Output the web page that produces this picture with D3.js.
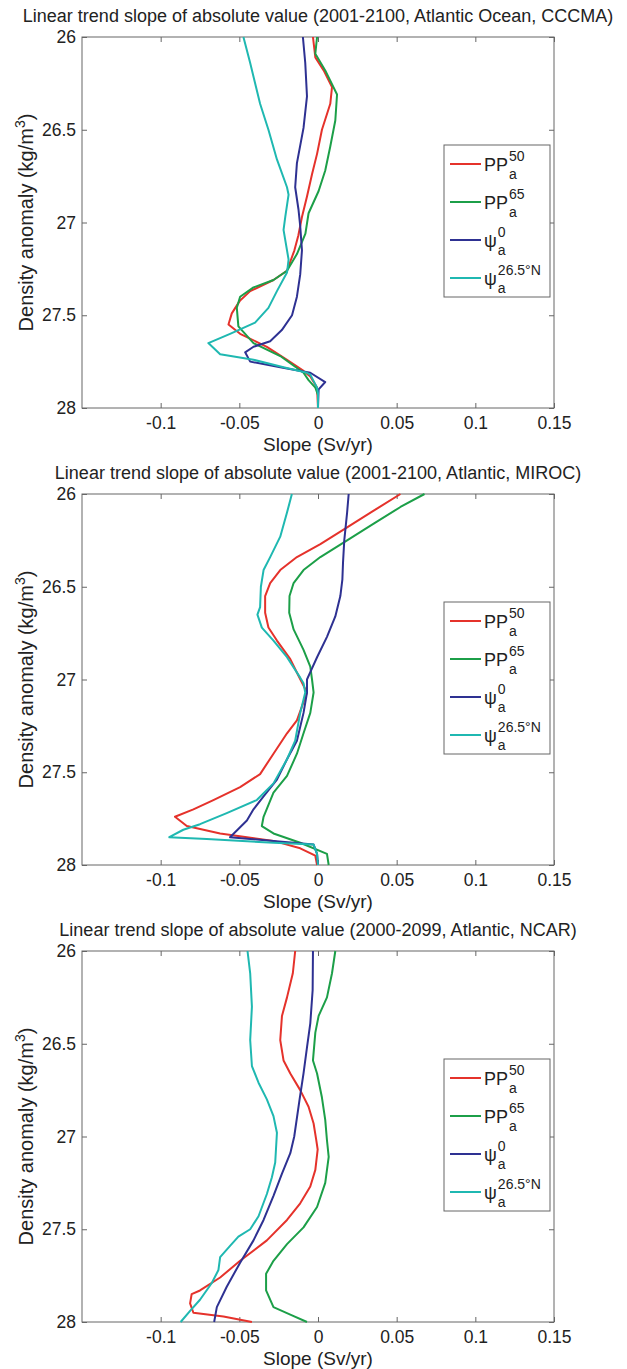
<!DOCTYPE html>
<html>
<head>
<meta charset="utf-8">
<script src="https://d3js.org/d3.v7.min.js"></script>
<style>
  body { margin: 0; background: #fff; }
  text { font-family: Arial, "Liberation Sans", Helvetica, sans-serif; fill: #222; }
</style>
</head>
<body>
<svg id="chart" width="627" height="1369"></svg>
<script>
// axis ticks + titles
var densityTicks = [26, 26.5, 27, 27.5, 28];
var slopeTicks = [-0.1, -0.05, 0, 0.05, 0.1, 0.15];
var panelTitles = [
  "Linear trend slope of absolute value (2001-2100, Atlantic Ocean, CCCMA)",
  "Linear trend slope of absolute value (2001-2100, Atlantic, MIROC)",
  "Linear trend slope of absolute value (2000-2099, Atlantic, NCAR)"
];
var seriesNames = [
  {base: "PP", sup: "50"},
  {base: "PP", sup: "65"},
  {base: "\u03c8", sup: "0"},
  {base: "\u03c8", sup: "26.5\u00b0N"}
];
var seriesColors = ["#e5322b", "#1c9f48", "#2e3192", "#1fb8b1"];

// [density anomaly, slope] pairs
var cccmaPP50 = [[26.00,-0.0032],[26.11,-0.0017],[26.18,0.0036],[26.27,0.0089],[26.36,0.0078],[26.50,0.0025],[26.63,-0.0006],[26.74,-0.0038],[26.86,-0.0070],[26.97,-0.0102],[27.07,-0.0125],[27.15,-0.0150],[27.26,-0.0197],[27.31,-0.0283],[27.37,-0.0431],[27.42,-0.0495],[27.49,-0.0548],[27.55,-0.0569],[27.60,-0.0495],[27.67,-0.0325],[27.74,-0.0197],[27.80,-0.0092],[27.83,-0.0049],[27.89,-0.0006],[28.00,0]];
var cccmaPP65 = [[26.00,-0.0006],[26.09,-0.0017],[26.18,0.0046],[26.31,0.0121],[26.45,0.0110],[26.59,0.0078],[26.72,0.0046],[26.83,0.0004],[26.95,-0.0060],[27.06,-0.0080],[27.17,-0.0134],[27.26,-0.0197],[27.31,-0.0283],[27.35,-0.0410],[27.40,-0.0495],[27.46,-0.0516],[27.56,-0.0506],[27.65,-0.0410],[27.72,-0.0240],[27.81,-0.0092],[27.85,-0.0060],[27.89,-0.0017],[27.93,0],[28.00,0]];
var cccmaPsi0 = [[26.00,-0.0096],[26.14,-0.0081],[26.32,-0.0070],[26.49,-0.0092],[26.68,-0.0134],[26.81,-0.0145],[26.93,-0.0124],[27.02,-0.0113],[27.15,-0.0102],[27.28,-0.0113],[27.40,-0.0134],[27.50,-0.0165],[27.58,-0.0230],[27.64,-0.0304],[27.67,-0.0410],[27.70,-0.0463],[27.75,-0.0431],[27.78,-0.0240],[27.81,-0.0049],[27.86,0.0046],[27.90,0.0004],[28.00,0]];
var cccmaPsi26 = [[26.00,-0.0474],[26.14,-0.0431],[26.36,-0.0368],[26.50,-0.0315],[26.66,-0.0261],[26.81,-0.0197],[26.85,-0.0187],[26.97,-0.0208],[27.04,-0.0219],[27.20,-0.0187],[27.27,-0.0197],[27.37,-0.0261],[27.46,-0.0315],[27.54,-0.0400],[27.60,-0.0559],[27.65,-0.0697],[27.71,-0.0622],[27.74,-0.0410],[27.78,-0.0219],[27.81,-0.0070],[27.82,-0.0049],[27.89,-0.0006],[27.92,0],[28.00,0]];

var mirocPP50 = [[26.00,0.0524],[26.09,0.0354],[26.18,0.0185],[26.27,0.0015],[26.34,-0.0134],[26.41,-0.0240],[26.48,-0.0304],[26.55,-0.0336],[26.64,-0.0336],[26.72,-0.0315],[26.79,-0.0261],[26.89,-0.0176],[26.98,-0.0124],[27.07,-0.0070],[27.22,-0.0134],[27.29,-0.0197],[27.40,-0.0283],[27.51,-0.0368],[27.58,-0.0495],[27.65,-0.0665],[27.70,-0.0792],[27.74,-0.0909],[27.79,-0.0834],[27.83,-0.0622],[27.87,-0.0283],[27.91,-0.0113],[27.95,-0.0017],[28.00,-0.0006]];
var mirocPP65 = [[26.00,0.0677],[26.07,0.0524],[26.16,0.0354],[26.25,0.0185],[26.34,0.0015],[26.41,-0.0092],[26.48,-0.0155],[26.55,-0.0181],[26.64,-0.0183],[26.73,-0.0155],[26.84,-0.0092],[26.93,-0.0049],[27.00,-0.0038],[27.07,-0.0028],[27.18,-0.0049],[27.29,-0.0092],[27.40,-0.0134],[27.52,-0.0197],[27.61,-0.0283],[27.74,-0.0346],[27.79,-0.0357],[27.83,-0.0283],[27.88,-0.0113],[27.94,0.0057],[28.00,0.0068]];
var mirocPsi0 = [[26.00,0.0195],[26.10,0.0185],[26.25,0.0167],[26.37,0.0159],[26.46,0.0155],[26.55,0.0142],[26.66,0.0110],[26.77,0.0057],[26.88,-0.0006],[26.96,-0.0049],[27.00,-0.0070],[27.07,-0.0070],[27.18,-0.0092],[27.33,-0.0134],[27.43,-0.0197],[27.54,-0.0261],[27.63,-0.0346],[27.70,-0.0410],[27.76,-0.0452],[27.85,-0.0559],[27.87,-0.0283],[27.89,-0.0028],[27.94,-0.0006],[28.00,0]];
var mirocPsi26 = [[26.00,-0.0166],[26.10,-0.0197],[26.23,-0.0240],[26.34,-0.0304],[26.41,-0.0346],[26.50,-0.0363],[26.61,-0.0368],[26.65,-0.0385],[26.72,-0.0357],[26.79,-0.0283],[26.88,-0.0197],[26.99,-0.0113],[27.02,-0.0092],[27.07,-0.0081],[27.18,-0.0113],[27.33,-0.0145],[27.43,-0.0197],[27.56,-0.0283],[27.65,-0.0389],[27.72,-0.0580],[27.78,-0.0750],[27.81,-0.0856],[27.85,-0.0945],[27.86,-0.0707],[27.88,-0.0283],[27.89,-0.0028],[27.94,-0.0006],[28.00,0]];

var ncarPP50 = [[26.00,-0.0145],[26.12,-0.0160],[26.25,-0.0197],[26.35,-0.0229],[26.48,-0.0240],[26.59,-0.0219],[26.66,-0.0176],[26.75,-0.0113],[26.84,-0.0060],[26.93,-0.0028],[27.02,-0.0011],[27.07,-0.0002],[27.18,-0.0017],[27.27,-0.0049],[27.36,-0.0113],[27.45,-0.0197],[27.56,-0.0325],[27.67,-0.0495],[27.76,-0.0622],[27.83,-0.0750],[27.85,-0.0803],[27.90,-0.0813],[27.95,-0.0792],[27.97,-0.0601],[28.00,-0.0420]];
var ncarPP65 = [[26.00,0.0110],[26.12,0.0089],[26.25,0.0057],[26.35,0.0004],[26.44,-0.0017],[26.59,-0.0032],[26.66,-0.0006],[26.79,0.0025],[26.91,0.0046],[27.02,0.0057],[27.11,0.0068],[27.25,0.0046],[27.38,-0.0006],[27.49,-0.0092],[27.58,-0.0197],[27.67,-0.0283],[27.74,-0.0330],[27.83,-0.0330],[27.92,-0.0283],[27.96,-0.0176],[28.00,-0.0070]];
var ncarPsi0 = [[26.00,-0.0032],[26.21,-0.0034],[26.39,-0.0049],[26.52,-0.0070],[26.66,-0.0092],[26.80,-0.0117],[27.00,-0.0151],[27.09,-0.0176],[27.20,-0.0229],[27.32,-0.0283],[27.45,-0.0346],[27.56,-0.0410],[27.68,-0.0495],[27.81,-0.0580],[27.92,-0.0643],[28.00,-0.0660]];
var ncarPsi26 = [[26.00,-0.0448],[26.12,-0.0431],[26.30,-0.0420],[26.48,-0.0431],[26.62,-0.0420],[26.71,-0.0378],[26.80,-0.0325],[26.89,-0.0283],[26.98,-0.0261],[27.14,-0.0272],[27.22,-0.0293],[27.31,-0.0325],[27.43,-0.0378],[27.50,-0.0431],[27.54,-0.0506],[27.59,-0.0559],[27.65,-0.0622],[27.72,-0.0633],[27.79,-0.0675],[27.88,-0.0750],[27.94,-0.0813],[28.00,-0.0873]];

var panels = [
  {title: panelTitles[0], series: [cccmaPP50, cccmaPP65, cccmaPsi0, cccmaPsi26]},
  {title: panelTitles[1], series: [mirocPP50, mirocPP65, mirocPsi0, mirocPsi26]},
  {title: panelTitles[2], series: [ncarPP50, ncarPP65, ncarPsi0, ncarPsi26]}
];

var svg = d3.select("#chart");
var left = 82, right = 554, plotH = 371, firstTop = 37, panelStep = 457;
var width = right - left;

var x = d3.scaleLinear().domain([-0.15, 0.15]).range([0, width]);
var y = d3.scaleLinear().domain([26, 28]).range([0, plotH]);

var line = d3.line()
  .x(function(d) { return x(d[1]); })
  .y(function(d) { return y(d[0]); });

panels.forEach(function(p, i) {
  var top = firstTop + i * panelStep;
  var g = svg.append("g").attr("transform", "translate(" + left + "," + top + ")");

  // title
  g.append("text")
    .attr("x", width / 2)
    .attr("y", -15)
    .attr("text-anchor", "middle")
    .attr("font-size", 18)
    .text(p.title);

  // axes, ticks pointing inward like matlab
  var xb = g.append("g").attr("transform", "translate(0," + plotH + ")")
    .call(d3.axisBottom(x).tickValues(slopeTicks).tickSizeInner(-5).tickSizeOuter(0).tickPadding(9)
      .tickFormat(function(d) { return d; }));
  var xt = g.append("g")
    .call(d3.axisTop(x).tickValues(slopeTicks).tickSizeInner(-5).tickSizeOuter(0).tickFormat(""));
  var yl = g.append("g")
    .call(d3.axisLeft(y).tickValues(densityTicks).tickSizeInner(-5).tickSizeOuter(0).tickPadding(6)
      .tickFormat(function(d) { return d; }));
  var yr = g.append("g").attr("transform", "translate(" + width + ",0)")
    .call(d3.axisRight(y).tickValues(densityTicks).tickSizeInner(-5).tickSizeOuter(0).tickFormat(""));

  [xb, xt, yl, yr].forEach(function(a) {
    a.select(".domain").remove();
    a.selectAll("line").attr("stroke", "#666");
    a.selectAll("text").attr("font-size", 17.5).attr("fill", "#222")
      .attr("font-family", "Arial, 'Liberation Sans', sans-serif");
  });

  g.append("rect")
    .attr("width", width)
    .attr("height", plotH)
    .attr("fill", "none")
    .attr("stroke", "#666")
    .attr("stroke-width", 1);

  // curves
  g.selectAll("path.curve")
    .data(p.series)
    .enter()
    .append("path")
    .attr("class", "curve")
    .attr("fill", "none")
    .attr("stroke", function(d, k) { return seriesColors[k]; })
    .attr("stroke-width", 2)
    .attr("stroke-linejoin", "round")
    .attr("d", line);

  // axis labels
  g.append("text")
    .attr("x", width / 2)
    .attr("y", plotH + 43)
    .attr("text-anchor", "middle")
    .attr("font-size", 19)
    .text("Slope (Sv/yr)");

  var yLab = g.append("text")
    .attr("transform", "translate(" + (33 - left) + "," + (plotH / 2) + ") rotate(-90)")
    .attr("text-anchor", "middle")
    .attr("font-size", 20);
  yLab.append("tspan").text("Density anomaly (kg/m");
  yLab.append("tspan").attr("dy", -8).attr("font-size", 14).text("3");
  yLab.append("tspan").attr("dy", 8).text(")");

  // legend
  var lx = 444 - left, ly = 108, lw = 106, lh = 152;
  var leg = g.append("g").attr("transform", "translate(" + lx + "," + ly + ")");
  leg.append("rect")
    .attr("width", lw)
    .attr("height", lh)
    .attr("fill", "#fff")
    .attr("stroke", "#666");

  seriesNames.forEach(function(s, k) {
    var ry = 19 + k * 38;
    leg.append("line")
      .attr("x1", 6).attr("x2", 37)
      .attr("y1", ry).attr("y2", ry)
      .attr("stroke", seriesColors[k])
      .attr("stroke-width", 2);
    var base = leg.append("text")
      .attr("x", 40)
      .attr("y", ry + 7)
      .attr("font-size", 18)
      .text(s.base);
    var bw = base.node().getComputedTextLength();
    leg.append("text")
      .attr("x", 40 + bw + 1)
      .attr("y", ry - 3)
      .attr("font-size", 14)
      .text(s.sup);
    leg.append("text")
      .attr("x", 40 + bw + 1)
      .attr("y", ry + 15)
      .attr("font-size", 14)
      .text("a");
  });
});
</script>
</body>
</html>
